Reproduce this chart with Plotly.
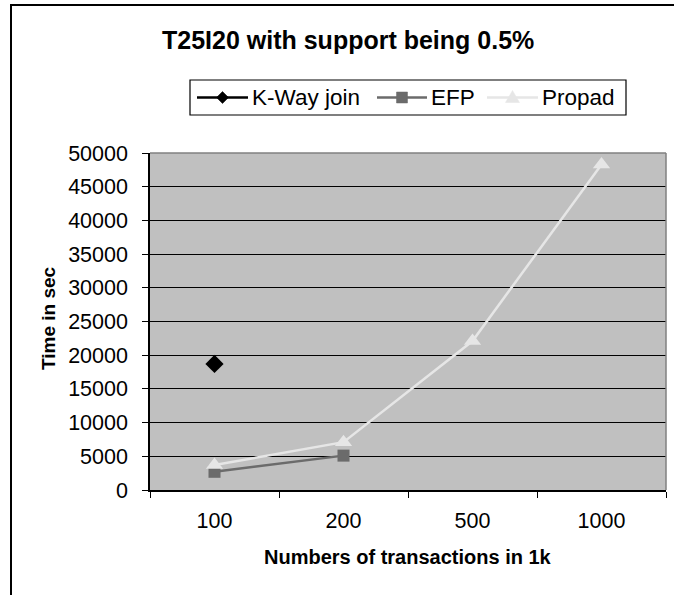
import plotly.graph_objects as go

# Data: transactions (in thousands) vs running time in seconds
categories = ["100", "200", "500", "1000"]
kway_join = [18700, None, None, None]
efp = [2700, 5100, None, None]
propad = [3700, 7100, 22100, 48300]
y_ticks = list(range(0, 50001, 5000))
y_tick_text = [str(v) for v in y_ticks]

series_names = ["K-Way join", "EFP", "Propad"]
series_colors = ["#000000", "#6b6b6b", "#e6e6e6"]

W, H = 674, 595
L, R, T, B = 150, 8, 153, 105
pw, ph = W - L - R, H - T - B


def px_x(x):
    return (x - L) / pw


def px_y(y):
    return (H - B - y) / ph


FONT = "Liberation Sans, Arial, sans-serif"

fig = go.Figure()
fig.add_trace(go.Scatter(
    x=categories, y=kway_join, name=series_names[0], mode="lines+markers",
    line=dict(color=series_colors[0], width=2),
    marker=dict(symbol="diamond", size=14, color=series_colors[0]),
))
fig.add_trace(go.Scatter(
    x=categories, y=efp, name=series_names[1], mode="lines+markers",
    line=dict(color=series_colors[1], width=2.5),
    marker=dict(symbol="square", size=12, color=series_colors[1]),
))
fig.add_trace(go.Scatter(
    x=categories, y=propad, name=series_names[2], mode="lines+markers",
    line=dict(color=series_colors[2], width=2.5),
    marker=dict(symbol="triangle-up", size=15, color=series_colors[2]),
))

# --- legend box drawn in pixel space (line + marker + label per entry)
LEG_Y = 97.5
legend_entries = [
    # (line start, line end, text start)
    (197, 248, 252),
    (377, 427, 431),
    (487, 538, 542),
]


def marker_path(kind, cx, cy):
    if kind == "diamond":
        pts = [(cx, cy - 6), (cx + 6, cy), (cx, cy + 6), (cx - 6, cy)]
    elif kind == "square":
        pts = [(cx - 5.5, cy - 5.5), (cx + 5.5, cy - 5.5), (cx + 5.5, cy + 5.5), (cx - 5.5, cy + 5.5)]
    else:
        pts = [(cx, cy - 7), (cx + 7, cy + 5), (cx - 7, cy + 5)]
    return "M " + " L ".join(f"{px_x(x):.5f},{px_y(y):.5f}" for x, y in pts) + " Z"


legend_shapes = [
    dict(type="rect", xref="paper", yref="paper",
         x0=px_x(190), y0=px_y(80), x1=px_x(626), y1=px_y(115),
         line=dict(color="#000000", width=1.2), fillcolor="#ffffff", layer="above"),
]
legend_annotations = []
for (x0, x1, tx), name, color, kind in zip(
        legend_entries, series_names, series_colors, ["diamond", "square", "triangle"]):
    legend_shapes.append(dict(
        type="line", xref="paper", yref="paper",
        x0=px_x(x0), x1=px_x(x1), y0=px_y(LEG_Y), y1=px_y(LEG_Y),
        line=dict(color=color, width=2.5), layer="above"))
    legend_shapes.append(dict(
        type="path", xref="paper", yref="paper", path=marker_path(kind, (x0 + x1) / 2, LEG_Y),
        fillcolor=color, line=dict(color=color, width=0.5), layer="above"))
    legend_annotations.append(dict(
        text=name, xref="paper", yref="paper", x=px_x(tx), y=px_y(LEG_Y),
        xanchor="left", yanchor="middle", showarrow=False,
        font=dict(size=22.5), xshift=-2))

fig.update_layout(
    width=W, height=H,
    margin=dict(l=L, r=R, t=T, b=B),
    paper_bgcolor="#ffffff",
    plot_bgcolor="#c0c0c0",
    font=dict(family=FONT, size=21.5, color="#000000"),
    showlegend=False,
    xaxis=dict(
        type="category", range=[-0.5, 3.5],
        showgrid=False, zeroline=False,
        showline=True, linecolor="#000000", linewidth=1.5,
        ticks="outside", tickson="boundaries", ticklen=6,
        tickcolor="#000000", tickfont=dict(size=21.5),
        ticklabelstandoff=10,
    ),
    yaxis=dict(
        range=[0, 50000], tickvals=y_ticks, ticktext=y_tick_text,
        showgrid=True, gridcolor="#000000", gridwidth=1,
        zeroline=False,
        showline=True, linecolor="#000000", linewidth=1.5,
        ticks="outside", ticklen=6, tickcolor="#000000",
        tickfont=dict(size=21.5), ticklabelstandoff=10,
    ),
    annotations=[
        dict(text="<b>T25I20 with support being 0.5%</b>", xref="paper", yref="paper",
             x=px_x(348), y=px_y(40), xanchor="center", yanchor="middle",
             showarrow=False, font=dict(size=25)),
        dict(text="<b>Time in sec</b>", xref="paper", yref="paper",
             x=px_x(48), y=px_y(318), xanchor="center", yanchor="middle",
             textangle=-90, showarrow=False, font=dict(size=19)),
        dict(text="<b>Numbers of transactions in 1k</b>", xref="paper", yref="paper",
             x=px_x(408), y=px_y(557), xanchor="center", yanchor="middle",
             showarrow=False, font=dict(size=20)),
    ] + legend_annotations,
    shapes=[
        # outer chart frame
        dict(type="rect", xref="paper", yref="paper",
             x0=px_x(11), y0=px_y(5), x1=px_x(700), y1=px_y(640),
             line=dict(color="#000000", width=2), layer="below"),
        # plot-area border on top and right
        dict(type="line", xref="paper", yref="paper", x0=0, x1=1, y0=1, y1=1,
             line=dict(color="#808080", width=1.5)),
        dict(type="line", xref="paper", yref="paper", x0=1, x1=1, y0=0, y1=1,
             line=dict(color="#808080", width=1.5)),
    ] + legend_shapes,
)

fig.write_html("out.html")
